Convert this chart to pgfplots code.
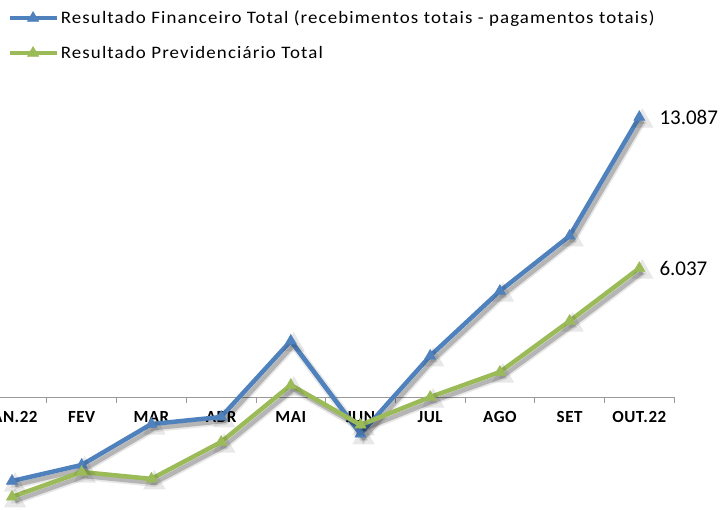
\documentclass[border=0pt]{standalone}
\usepackage{pgfplots}
\pgfplotsset{compat=1.18}
\usepackage{fontspec}
\setmainfont{Carlito}
\newfontfamily\legfont{Carlito}[FakeStretch=1.08,LetterSpace=6.5]
\newfontfamily\tickfont{Carlito}[LetterSpace=3]
\definecolor{exblue}{HTML}{4F81BD}
\definecolor{exgreen}{HTML}{9BBB59}
\begin{document}
\begin{tikzpicture}
\begin{axis}[
  x=69.7pt, y=21.42pt,
  anchor=south west, at={(-22.85pt,-5.31pt)},
  xmin=-0.5, xmax=9.5, ymin=-5.5, ymax=14,
  axis x line=middle, axis y line=none,
  x axis line style={-, draw=gray!80, line width=0.8pt},
  xtick={0,...,9},
  xticklabels={JAN.22,FEV,MAR,ABR,MAI,JUN,JUL,AGO,SET,OUT.22},
  major tick length=0pt,
  xticklabel style={font=\tickfont\fontsize{17}{19}\selectfont\bfseries, yshift=-10pt},
  clip=false,
  legend style={draw=none, fill=none, at={(axis cs:-0.07,18.15)}, anchor=north west,
    font=\legfont\fontsize{17.5}{20}\selectfont, row sep=17pt, inner sep=0pt},
  legend cell align=left,
  legend image code/.code={\draw[mark repeat=2,mark phase=2,#1] plot coordinates {(0pt,0pt) (23.5pt,0pt) (47pt,0pt)};},
]
% tick marks
\addplot[gray!80, line width=0.8pt, ycomb, mark=none, forget plot] coordinates {
(-0.5,-0.24) (0.5,-0.24) (1.5,-0.24) (2.5,-0.24) (3.5,-0.24) (4.5,-0.24) (5.5,-0.24) (6.5,-0.24) (7.5,-0.24) (8.5,-0.24) (9.5,-0.24)};
% blue shadow
\addplot[black, opacity=0.09, line width=8pt, mark=triangle*, mark size=5pt, xshift=3pt, yshift=-4pt, forget plot] coordinates {
(0,-3.90) (1,-3.15) (2,-1.24) (3,-0.91) (4,2.64) (5,-1.70) (6,1.94) (7,4.97) (8,7.54) (9,13.087)};
\addplot[black, opacity=0.22, line width=4.5pt, mark=none, xshift=3pt, yshift=-4pt, forget plot] coordinates {
(0,-3.90) (1,-3.15) (2,-1.24) (3,-0.91) (4,2.64) (5,-1.70) (6,1.94) (7,4.97) (8,7.54) (9,13.087)};
\addplot[exblue, line width=4.5pt, mark=triangle*, mark size=6.5pt, mark options={solid, line width=0.5pt}] coordinates {
(0,-3.90) (1,-3.15) (2,-1.24) (3,-0.91) (4,2.64) (5,-1.70) (6,1.94) (7,4.97) (8,7.54) (9,13.087)};
\addlegendentry{Resultado Financeiro Total (recebimentos totais - pagamentos totais)}
% green shadow
\addplot[black, opacity=0.09, line width=8pt, mark=triangle*, mark size=5pt, xshift=3pt, yshift=-4pt, forget plot] coordinates {
(0,-4.64) (1,-3.48) (2,-3.80) (3,-2.08) (4,0.58) (5,-1.28) (6,0.02) (7,1.19) (8,3.57) (9,6.037)};
\addplot[black, opacity=0.22, line width=4.5pt, mark=none, xshift=3pt, yshift=-4pt, forget plot] coordinates {
(0,-4.64) (1,-3.48) (2,-3.80) (3,-2.08) (4,0.58) (5,-1.28) (6,0.02) (7,1.19) (8,3.57) (9,6.037)};
\addplot[exgreen, line width=4.5pt, mark=triangle*, mark size=6.5pt, mark options={solid, line width=0.5pt}] coordinates {
(0,-4.64) (1,-3.48) (2,-3.80) (3,-2.08) (4,0.58) (5,-1.28) (6,0.02) (7,1.19) (8,3.57) (9,6.037)};
\addlegendentry{Resultado Previdenciário Total}
\node[anchor=west, font=\fontsize{21}{24}\selectfont, inner sep=0pt] at (axis cs:9,13.087) [xshift=20pt] {13.087};
\node[anchor=west, font=\fontsize{21}{24}\selectfont, inner sep=0pt] at (axis cs:9,6.037) [xshift=20pt] {6.037};
\end{axis}
\pgfresetboundingbox
\path (0pt,0pt) rectangle (723pt,510pt);
\end{tikzpicture}
\end{document}
